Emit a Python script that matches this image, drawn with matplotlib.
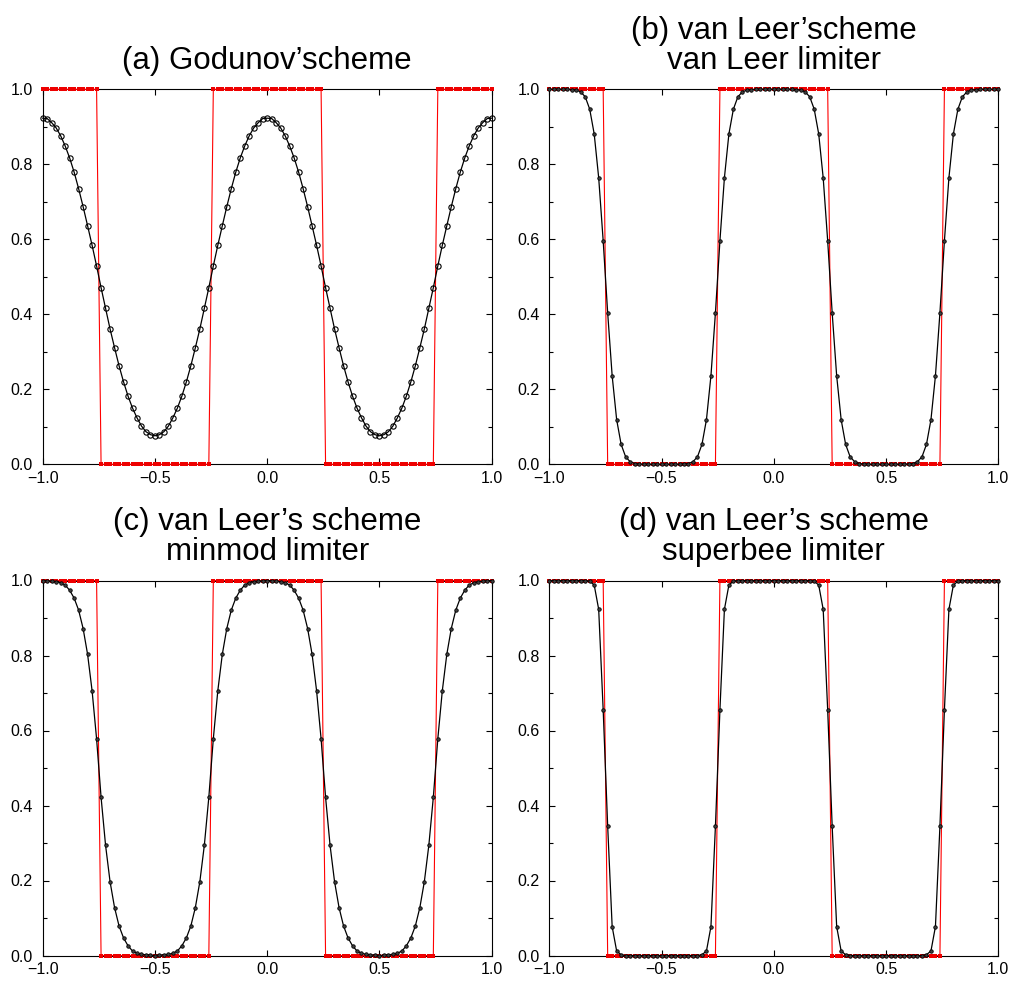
import numpy as np
import matplotlib
matplotlib.use('Agg')
import matplotlib.pyplot as plt
from matplotlib.ticker import MultipleLocator, FuncFormatter

plt.rcParams['font.family'] = ['Liberation Sans', 'DejaVu Sans']

# grid: x = -1 .. 1, dx = 0.02 (101 points)
x = np.linspace(-1.0, 1.0, 101)

# exact solution (red), square wave
exact = [1]*13 + [0]*25 + [1]*25 + [0]*25 + [1]*13

# (a) Godunov
godunov = [0.923, 0.922, 0.911, 0.897, 0.876, 0.849, 0.817, 0.779, 0.735, 0.687,
           0.636, 0.584, 0.529, 0.471, 0.416, 0.361, 0.311, 0.263, 0.220, 0.182,
           0.150, 0.124, 0.102, 0.087, 0.079, 0.076,
           0.079, 0.087, 0.102, 0.124, 0.150, 0.182, 0.220, 0.263, 0.311, 0.361,
           0.416, 0.471, 0.529, 0.584, 0.636, 0.687, 0.735, 0.779, 0.817, 0.849,
           0.876, 0.897, 0.911, 0.922, 0.923,
           0.922, 0.911, 0.897, 0.876, 0.849, 0.817, 0.779, 0.735, 0.687, 0.636,
           0.584, 0.529, 0.471, 0.416, 0.361, 0.311, 0.263, 0.220, 0.182, 0.150,
           0.124, 0.102, 0.087, 0.079, 0.076,
           0.079, 0.087, 0.102, 0.124, 0.150, 0.182, 0.220, 0.263, 0.311, 0.361,
           0.416, 0.471, 0.529, 0.584, 0.636, 0.687, 0.735, 0.779, 0.817, 0.849,
           0.876, 0.897, 0.911, 0.922, 0.923]

# (b) van Leer limiter
vanleer = [1.000, 1.000, 1.000, 1.000, 1.000, 0.999, 0.998, 0.993, 0.980, 0.947,
           0.881, 0.764, 0.596, 0.404, 0.236, 0.119, 0.053, 0.020, 0.007, 0.002,
           0.001, 0.000, 0.000, 0.000, 0.000, 0.000,
           0.000, 0.000, 0.000, 0.000, 0.001, 0.002, 0.007, 0.020, 0.053, 0.119,
           0.236, 0.404, 0.596, 0.764, 0.881, 0.947, 0.980, 0.993, 0.998, 0.999,
           1.000, 1.000, 1.000, 1.000, 1.000,
           1.000, 1.000, 1.000, 1.000, 0.999, 0.998, 0.993, 0.980, 0.947, 0.881,
           0.764, 0.596, 0.404, 0.236, 0.119, 0.053, 0.020, 0.007, 0.002, 0.001,
           0.000, 0.000, 0.000, 0.000, 0.000,
           0.000, 0.000, 0.000, 0.000, 0.001, 0.002, 0.007, 0.020, 0.053, 0.119,
           0.236, 0.404, 0.596, 0.764, 0.881, 0.947, 0.980, 0.993, 0.998, 0.999,
           1.000, 1.000, 1.000, 1.000, 1.000]

# (c) minmod limiter
minmod = [1.000, 0.999, 0.998, 0.997, 0.994, 0.988, 0.974, 0.953, 0.921, 0.872,
          0.803, 0.706, 0.578, 0.422, 0.294, 0.197, 0.128, 0.079, 0.047, 0.026,
          0.012, 0.006, 0.003, 0.002, 0.001, 0.000,
          0.001, 0.002, 0.003, 0.006, 0.012, 0.026, 0.047, 0.079, 0.128, 0.197,
          0.294, 0.422, 0.578, 0.706, 0.803, 0.872, 0.921, 0.953, 0.974, 0.988,
          0.994, 0.997, 0.998, 0.999, 1.000,
          0.999, 0.998, 0.997, 0.994, 0.988, 0.974, 0.953, 0.921, 0.872, 0.803,
          0.706, 0.578, 0.422, 0.294, 0.197, 0.128, 0.079, 0.047, 0.026, 0.012,
          0.006, 0.003, 0.002, 0.001, 0.000,
          0.001, 0.002, 0.003, 0.006, 0.012, 0.026, 0.047, 0.079, 0.128, 0.197,
          0.294, 0.422, 0.578, 0.706, 0.803, 0.872, 0.921, 0.953, 0.974, 0.988,
          0.994, 0.997, 0.998, 0.999, 1.000]

# (d) superbee limiter
superbee = [1.000, 1.000, 1.000, 1.000, 1.000, 1.000, 1.000, 1.000, 1.000, 0.998,
            0.988, 0.923, 0.655, 0.345, 0.077, 0.012, 0.002, 0.000, 0.000, 0.000,
            0.000, 0.000, 0.000, 0.000, 0.000, 0.000,
            0.000, 0.000, 0.000, 0.000, 0.000, 0.000, 0.000, 0.000, 0.002, 0.012,
            0.077, 0.345, 0.655, 0.923, 0.988, 0.998, 1.000, 1.000, 1.000, 1.000,
            1.000, 1.000, 1.000, 1.000, 1.000,
            1.000, 1.000, 1.000, 1.000, 1.000, 1.000, 1.000, 1.000, 0.998, 0.988,
            0.923, 0.655, 0.345, 0.077, 0.012, 0.002, 0.000, 0.000, 0.000, 0.000,
            0.000, 0.000, 0.000, 0.000, 0.000,
            0.000, 0.000, 0.000, 0.000, 0.000, 0.000, 0.000, 0.000, 0.002, 0.012,
            0.077, 0.345, 0.655, 0.923, 0.988, 0.998, 1.000, 1.000, 1.000, 1.000,
            1.000, 1.000, 1.000, 1.000, 1.000]

titles = ['(a) Godunov\u2019scheme',
          '(b) van Leer\u2019scheme\nvan Leer limiter',
          '(c) van Leer\u2019s scheme\nminmod limiter',
          '(d) van Leer\u2019s scheme\nsuperbee limiter']
series = [godunov, vanleer, minmod, superbee]

# axes boxes in figure fractions (left, bottom, width, height)
W, H = 1013.0, 983.0
boxes = [[42.7/W, 1-464.3/H, 449/W, 375/H],
         [549.3/W, 1-464.3/H, 449/W, 375/H],
         [42.7/W, 1-955.5/H, 449/W, 375/H],
         [549.3/W, 1-955.5/H, 449/W, 375/H]]

def fmt(v, pos):
    return ('%.1f' % v).replace('-', '\u2212')

fig = plt.figure(figsize=(10.13, 9.83), dpi=100)

for i in range(4):
    ax = fig.add_axes(boxes[i])
    ax.plot(x, exact, color='red', lw=0.8, marker='s', ms=2.7, mew=0,
            mfc='#ee0000', clip_on=False, zorder=3)
    if i == 0:
        ax.plot(x, series[i], color='black', lw=0.9, marker='o', ms=3.8,
                mfc='none', mec='black', mew=0.8, clip_on=False, zorder=4)
    else:
        ax.plot(x, series[i], color='black', lw=0.9, marker='o', ms=2.5,
                mfc='0.25', mec='black', mew=0.6, clip_on=False, zorder=4)
    ax.set_xlim(-1, 1)
    ax.set_ylim(0, 1)
    ax.xaxis.set_major_locator(MultipleLocator(0.5))
    ax.yaxis.set_major_locator(MultipleLocator(0.2))
    ax.yaxis.set_minor_locator(MultipleLocator(0.1))
    ax.xaxis.set_major_formatter(FuncFormatter(fmt))
    ax.yaxis.set_major_formatter(FuncFormatter(fmt))
    ax.tick_params(which='both', direction='in', top=True, right=True,
                   width=0.8, labelsize=11.5)
    ax.tick_params(which='major', length=4.5)
    ax.tick_params(which='minor', length=2.8)
    ax.tick_params(axis='x', pad=5)
    ax.tick_params(axis='y', pad=7)
    for s in ax.spines.values():
        s.set_linewidth(0.8)
    ax.set_title(titles[i], fontsize=22.5, pad=14.5, linespacing=1.0)

plt.savefig('out.png', dpi=100)
